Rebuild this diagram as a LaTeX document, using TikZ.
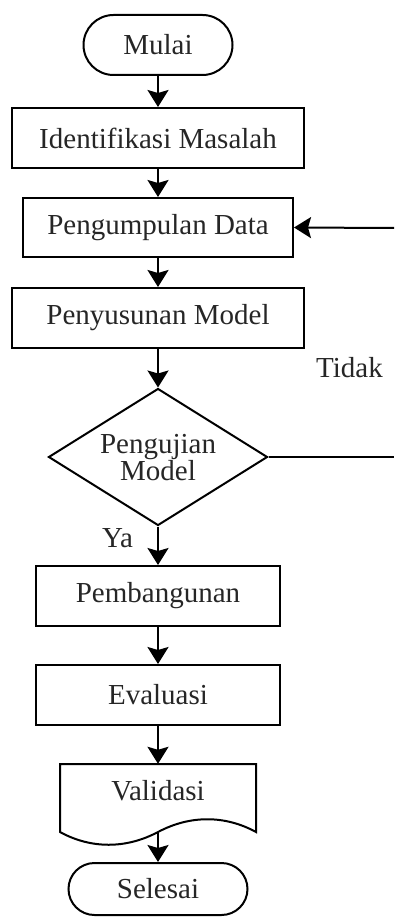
\documentclass[tikz,border=0pt]{standalone}
\usepackage{fontspec}
\setmainfont{Liberation Serif}
\usetikzlibrary{shapes.geometric,arrows.meta}
\begin{document}
\begin{tikzpicture}[x=1pt,y=-1pt,
  every node/.style={font=\fontsize{29}{27}\selectfont, text=black!85},
  box/.style={draw, line width=2pt, inner sep=0pt},
  arr/.style={line width=2pt, -{Stealth[length=17pt 0 0,width=21pt 0 0,inset=3pt 0]}},
  ln/.style={line width=2pt}]
\useasboundingbox (0,0) rectangle (394,917);
% nodes
\node[box, rounded corners=30pt, minimum width=149pt, minimum height=60pt] (mulai) at (158,45) {Mulai};
\node[box, minimum width=292pt, minimum height=60pt] (idm) at (158,138) {Identifikasi Masalah};
\node[box, minimum width=270pt, minimum height=59pt] (pd) at (158,227.5) {Pengumpulan Data};
\node[box, minimum width=292pt, minimum height=60pt] (pm) at (158,318) {Penyusunan Model};
\node[box, diamond, minimum width=219pt, minimum height=137pt] (dec) at (158,457) {};
\node[align=center] (dectxt) at (158,458) {Pengujian\\Model};
\node[box, minimum width=244pt, minimum height=60pt] (pb) at (158,596) {Pembangunan};
\node[box, minimum width=244pt, minimum height=60pt] (ev) at (158,695) {Evaluasi};
\node[inner sep=0pt, minimum width=196pt, minimum height=68pt] (val) at (158,798) {};
\draw[ln] (60,764) -- (256,764) -- (256,832)
  .. controls (225,815) and (190,815) .. (158,832)
  .. controls (126,849) and (91,849) .. (60,832) -- cycle;
\node[anchor=base] (valtxt) at (158,800) {Validasi};
\node[box, rounded corners=26pt, minimum width=179pt, minimum height=52pt] (sel) at (158,889) {Selesai};
\node[anchor=base] (tidak) at (349.5,377) {Tidak};
\node[anchor=base] (ya) at (117.5,547) {Ya};
\coordinate (r1) at (394,228);
\coordinate (r2) at (394,457);
% connectors
\draw[arr] (mulai) -- (idm);
\draw[arr] (idm) -- (pd);
\draw[arr] (pd) -- (pm);
\draw[arr] (pm) -- (dec.north);
\draw[arr] (dec.south) -- (pb);
\draw[arr] (pb) -- (ev);
\draw[arr] (ev) -- (val.north);
\draw[arr] (val.south) -- (sel);
\draw[ln] (dec.east) -- (r2);
\draw[arr] (r1) -- (pd.east);
\end{tikzpicture}
\end{document}
